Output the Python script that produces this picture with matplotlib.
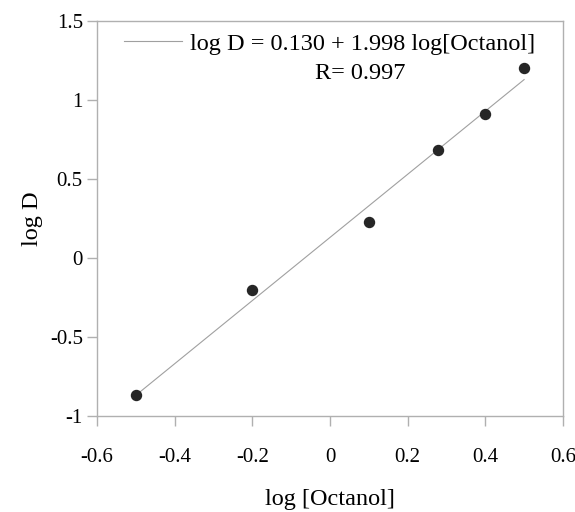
import matplotlib
matplotlib.use('Agg')
from matplotlib import pyplot as plt
from matplotlib.ticker import FuncFormatter
import numpy as np

# Define the data
log_octanol = np.array([-0.5, -0.2, 0.1, 0.277, 0.4, 0.5])
log_d = np.array([-0.865, -0.205, 0.226, 0.683, 0.910, 1.202])
intercept = 0.130
slope = 1.998
r_value = 0.997

x_ticks = [-0.6, -0.4, -0.2, 0, 0.2, 0.4, 0.6]
y_ticks = [-1, -0.5, 0, 0.5, 1, 1.5]

plt.rcParams['font.family'] = ['Liberation Serif', 'DejaVu Serif']

fig = plt.figure(figsize=(5.75, 5.12), dpi=100)
ax = fig.add_axes([0.1687, 0.1875, 0.8103, 0.7715])

# fit line over the data range
xfit = np.array([log_octanol.min(), log_octanol.max()])
yfit = intercept + slope * xfit
label = 'log D = {:.3f} + {:.3f} log[Octanol]'.format(intercept, slope)
ax.plot(xfit, yfit, color='#a0a0a0', lw=0.8, label=label)
ax.plot(log_octanol, log_d, 'o', color='#262626', ms=7.2, zorder=3)

ax.set_xlim(-0.6, 0.6)
ax.set_ylim(-1, 1.5)
ax.set_xticks(x_ticks)
ax.set_yticks(y_ticks)
fmt = FuncFormatter(lambda v, p: '{:g}'.format(round(v, 2)).replace('\u2212', '-'))
ax.xaxis.set_major_formatter(fmt)
ax.yaxis.set_major_formatter(fmt)

for s in ax.spines.values():
    s.set_color('#b0b0b0')
    s.set_linewidth(1.0)
ax.tick_params(axis='both', direction='out', length=7.2, width=1.0,
               color='#b0b0b0', labelsize=15, labelcolor='black')
ax.tick_params(axis='x', pad=16)
ax.tick_params(axis='y', pad=3)

ax.set_xlabel('log [Octanol]', fontsize=17.5, labelpad=16)
ax.set_ylabel('log D', fontsize=17.5, labelpad=5)

leg = ax.legend(loc='upper left', bbox_to_anchor=(0.058, 0.97), frameon=False,
                fontsize=17.5, handlelength=2.4, handletextpad=0.3,
                borderpad=0, borderaxespad=0)
ax.text(0.564, 0.868, 'R= {:.3f}'.format(r_value), transform=ax.transAxes,
        ha='center', va='center', fontsize=17.5)

fig.savefig('out.png', dpi=100)
